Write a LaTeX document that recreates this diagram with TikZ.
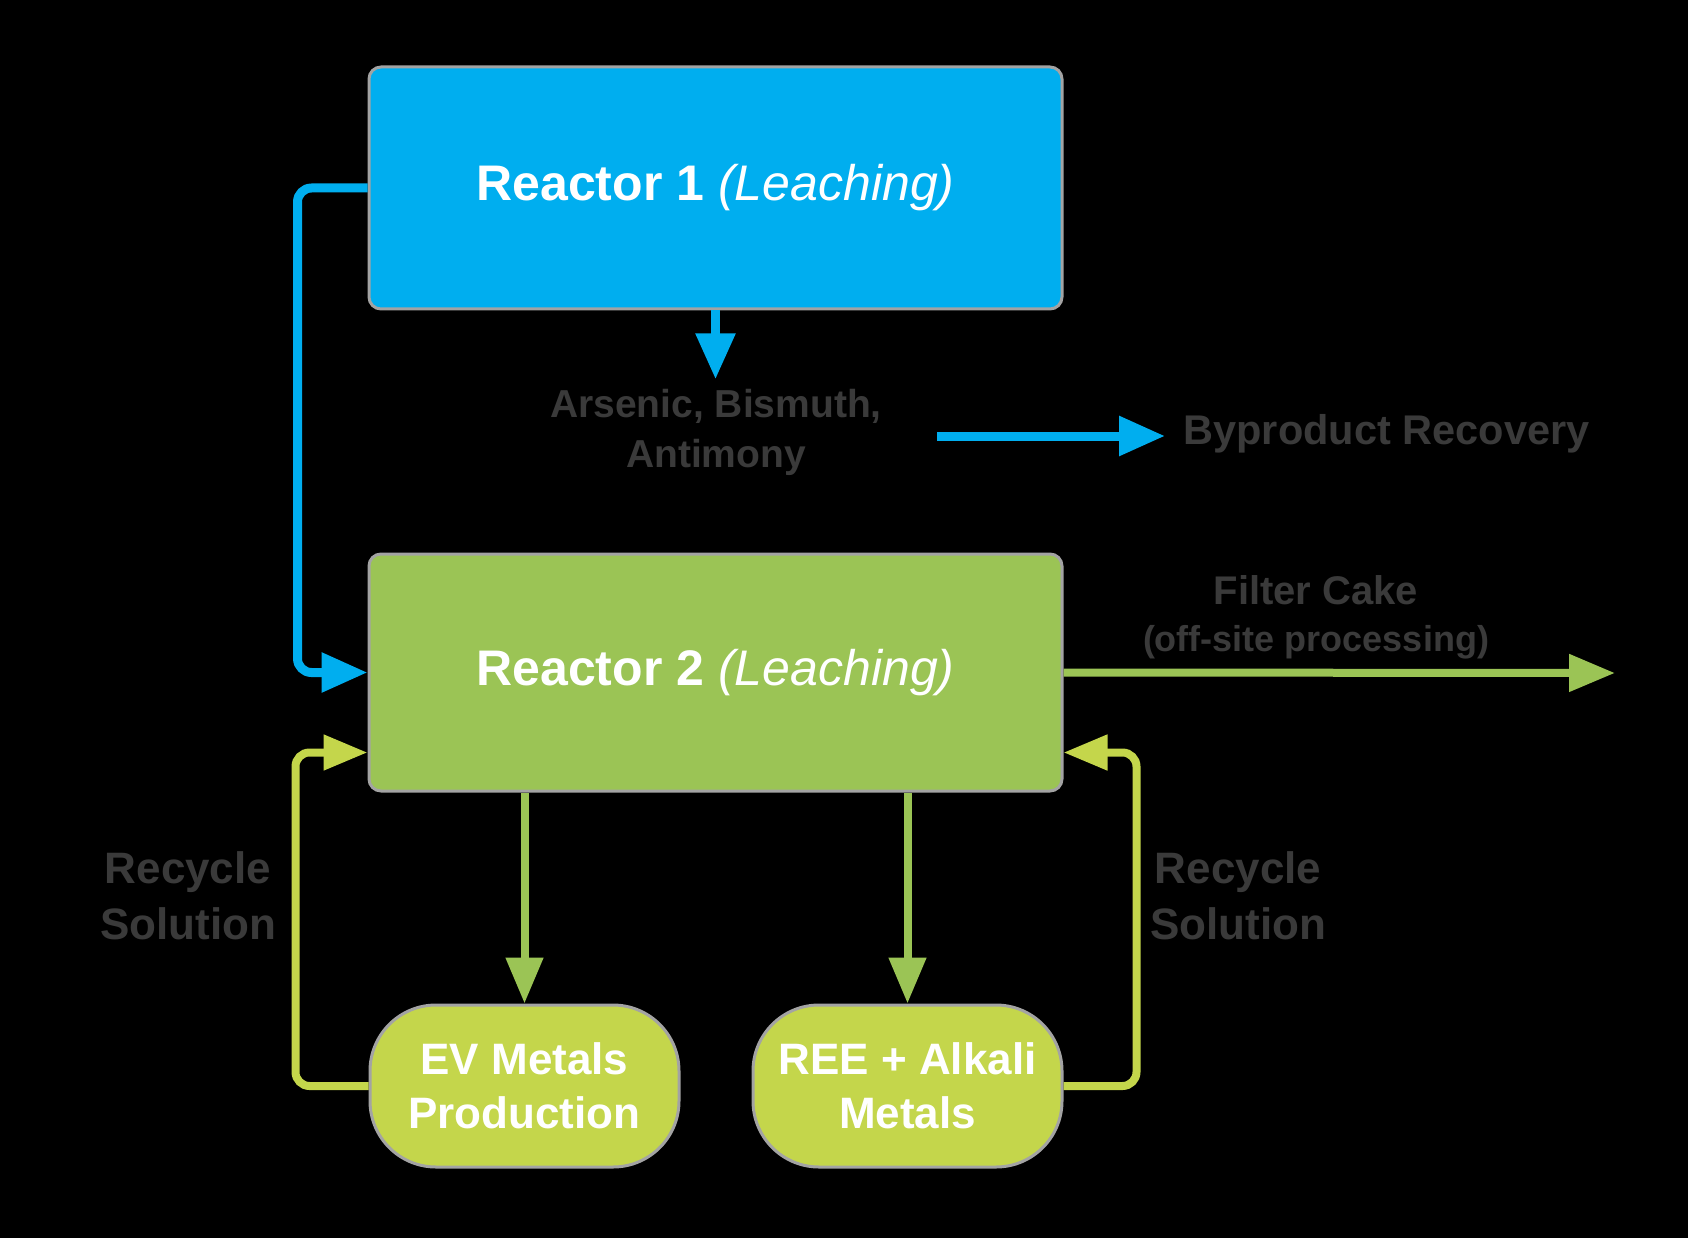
\documentclass[tikz,border=0pt]{standalone}
\usepackage{fontspec}
\setmainfont{Liberation Sans}
\usetikzlibrary{arrows.meta,calc}
\definecolor{rblue}{HTML}{00AEEF}
\definecolor{rgreen}{HTML}{9BC455}
\definecolor{rlime}{HTML}{C4D64B}
\definecolor{dtext}{HTML}{3A3A3A}
\definecolor{halo}{HTML}{A3A3A3}
\tikzset{
  reactor/.style={rectangle, rounded corners=12pt, draw=halo, line width=3pt, minimum width=693pt, text=white, font=\bfseries\fontsize{50}{60}\selectfont},
  product/.style={rectangle, rounded corners=66pt, draw=halo, line width=3pt, fill=rlime, minimum width=309pt, minimum height=162pt, text=white, align=center, font=\bfseries\fontsize{44}{54}\selectfont},
  lbl/.style={text=dtext, align=center, font=\bfseries\fontsize{40}{50}\selectfont},
  bluearrow/.style={draw=rblue, line width=9pt, -{Triangle[length=46pt,width=38pt]}},
  greenarrow/.style={draw=rgreen, line width=8pt, -{Triangle[length=46pt,width=36pt]}},
  limearrow/.style={draw=rlime, line width=8pt, rounded corners=14pt, -{Triangle[length=44pt,width=34pt]}},
}
\begin{document}
\begin{tikzpicture}[x=1pt,y=-1pt]
\useasboundingbox[fill=black] (0,0) rectangle (1688,1238);

\node[reactor, fill=rblue, minimum height=242pt] (R1) at (715.5,188) {Reactor 1 {\mdseries\itshape (Leaching)}};
\node[reactor, fill=rgreen, minimum height=237pt] (R2) at (715.5,672.5) {Reactor 2 {\mdseries\itshape (Leaching)}};

\node[product] (EV) at (524.5,1086) {EV Metals\\Production};
\node[product] (REE) at (907.5,1086) {REE + Alkali\\Metals};

\node[lbl, font=\bfseries\fontsize{39}{50}\selectfont] (ars) at (716,432) {Arsenic, Bismuth,\\Antimony};
\node[lbl, anchor=west, font=\bfseries\fontsize{41.5}{50}\selectfont] (byp) at (1180,434) {Byproduct Recovery};
\node[lbl] (fc1) at (1316,590) {Filter Cake};
\node[lbl, font=\bfseries\fontsize{36}{44}\selectfont] (fc2) at (1316,642) {(off-site processing)};
\node[lbl, font=\bfseries\fontsize{44}{56}\selectfont] (rec1) at (188,896) {Recycle\\Solution};
\node[lbl, font=\bfseries\fontsize{44}{56}\selectfont] (rec2) at (1238,896) {Recycle\\Solution};

\coordinate (bstart) at (937,436);
\coordinate (bend) at (1165,436);
\coordinate (fcend) at (1615,673);
\coordinate (r2l) at ([yshift=40pt]R2.south west);
\coordinate (r2r) at ([yshift=40pt]R2.south east);

% blue connectors
\draw[bluearrow] (R1.south) -- ([yshift=6pt]ars.north -| R1.south);
\draw[bluearrow] (bstart) -- (bend);
\draw[bluearrow, rounded corners=14pt] (R1.west) -- ++(-70,0) |- (R2.west);

% green connectors
\draw[greenarrow] (R2.east) -- (fcend);
\draw[greenarrow] (EV.north |- R2.south) -- (EV.north);
\draw[greenarrow] (REE.north |- R2.south) -- (REE.north);

% recycle loops
\draw[limearrow] (EV.west) -- ++(-73,0) |- (r2l);
\draw[limearrow] (REE.east) -- ++(73,0) |- (r2r);
\end{tikzpicture}
\end{document}
